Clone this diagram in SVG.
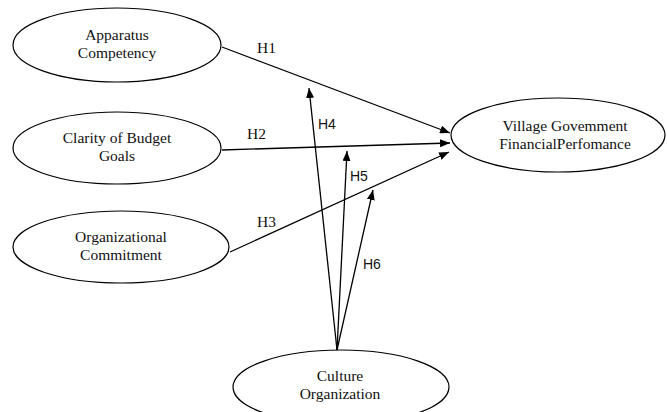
<svg xmlns="http://www.w3.org/2000/svg" width="667" height="412" viewBox="0 0 667 412">
<style>
.n{fill:#fff;stroke:#000;stroke-width:1.2}
.t{font-family:'Liberation Serif','Times New Roman',serif;font-size:15.5px;fill:#111;text-anchor:middle}
.ls{font-family:'Liberation Serif','Times New Roman',serif;font-size:15.5px;fill:#111}
.la{font-family:'Liberation Sans',Arial,sans-serif;font-size:14px;fill:#111}
.c{stroke:#000;stroke-width:1.3;fill:none;marker-end:url(#ah)}
</style>
<defs>
<marker id="ah" viewBox="0 0 10 8" refX="10" refY="4" markerWidth="10" markerHeight="8" markerUnits="userSpaceOnUse" orient="auto">
<path d="M0,0 L10,4 L0,8 Z" fill="#000"/>
</marker>
</defs>
<rect width="667" height="412" fill="#fff"/>
<g id="connectors">
<path class="c" d="M222,47 L450,133"/>
<path class="c" d="M222,150 L450,143"/>
<path class="c" d="M230,252 L449,152"/>
<path class="c" d="M337,350 L309,88"/>
<path class="c" d="M337,350 L347,151"/>
<path class="c" d="M337,350 L373,190"/>
<text class="ls" x="257" y="53">H1</text>
<text class="ls" x="247" y="139">H2</text>
<text class="ls" x="257" y="227">H3</text>
<text class="la" x="318" y="129">H4</text>
<text class="la" x="350" y="181">H5</text>
<text class="la" x="363" y="269">H6</text>
</g>
<g id="apparatus">
<ellipse class="n" cx="117" cy="45" rx="104" ry="37"/>
<text class="t" x="117" y="40">Apparatus</text>
<text class="t" x="117" y="58">Competency</text>
</g>
<g id="clarity">
<ellipse class="n" cx="117" cy="148" rx="104" ry="36"/>
<text class="t" x="117" y="143">Clarity of Budget</text>
<text class="t" x="117" y="161">Goals</text>
</g>
<g id="commitment">
<ellipse class="n" cx="121" cy="247" rx="108" ry="36"/>
<text class="t" x="121" y="242">Organizational</text>
<text class="t" x="121" y="260">Commitment</text>
</g>
<g id="performance">
<ellipse class="n" cx="558" cy="135" rx="107" ry="37"/>
<text class="t" x="565" y="131">Village  Govemment</text>
<text class="t" x="565" y="149">FinancialPerfomance</text>
</g>
<g id="culture">
<ellipse class="n" cx="341" cy="387" rx="108" ry="37"/>
<text class="t" x="340" y="381">Culture</text>
<text class="t" x="340" y="399">Organization</text>
</g>
</svg>
